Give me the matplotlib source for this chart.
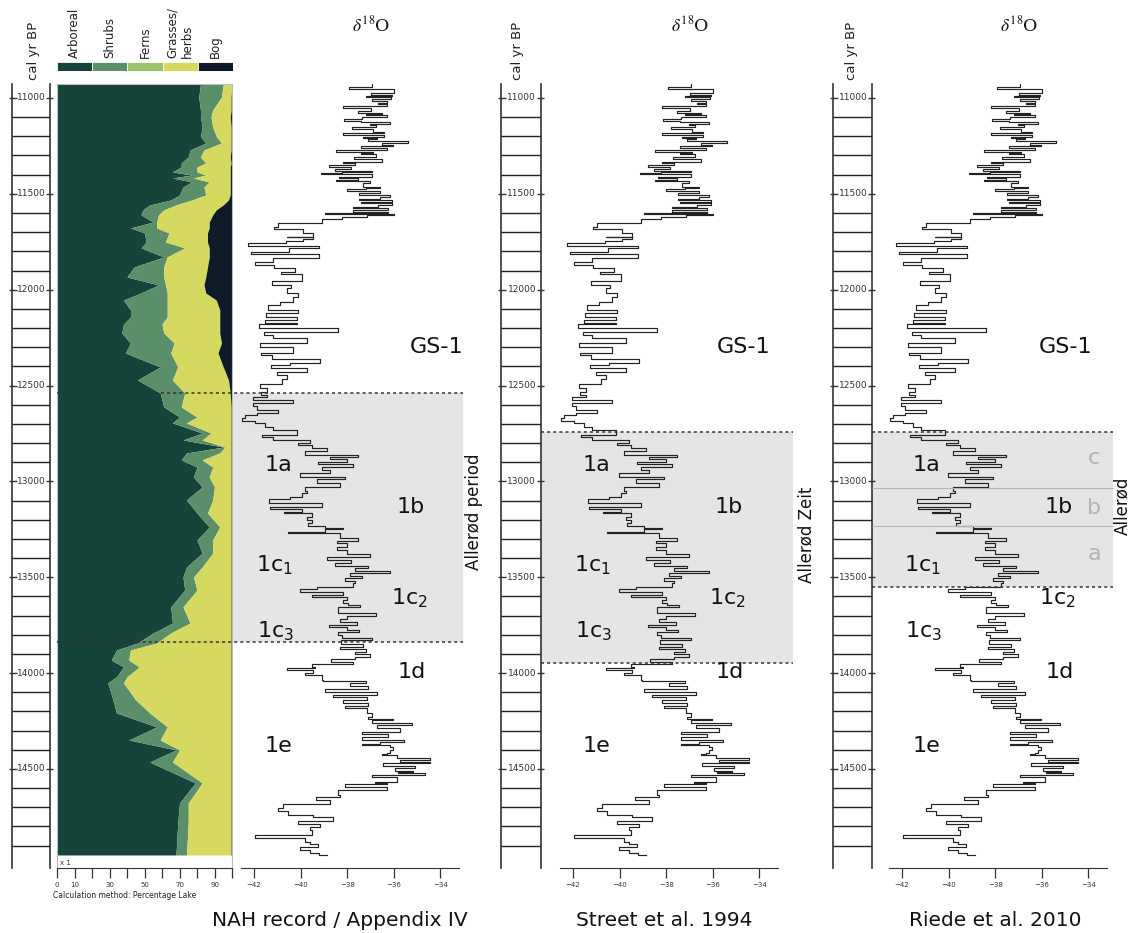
import matplotlib
matplotlib.use("Agg")
import matplotlib.pyplot as plt
import numpy as np

# figure size in pixels
W, H = 1129, 933
AGE_TOP, AGE_BOT = 10927, 15017

# --- vegetation record (NAH), percentages per group ---
veg_age = [10927, 10995, 11063, 11099, 11151, 11200, 11235, 11271, 11308, 11339,
           11360, 11386, 11402, 11417, 11438, 11464, 11506, 11532, 11558, 11584,
           11610, 11647, 11678, 11704, 11751, 11782, 11829, 11882, 11934, 11975,
           12017, 12054, 12106, 12142, 12180, 12226, 12278, 12330, 12403, 12471,
           12539, 12612, 12664, 12695, 12748, 12784, 12821, 12852, 12888, 12925,
           12977, 13029, 13097, 13165, 13238, 13306, 13374, 13447, 13499, 13567,
           13655, 13739, 13791, 13843, 13880, 13932, 13968, 14020, 14051, 14140,
           14208, 14281, 14349, 14401, 14464, 14573, 14678, 14782, 14949]
arboreal = [82, 81, 82, 82, 83, 82, 85, 76, 75, 71,
            71, 66, 77, 66, 77, 72, 70, 65, 53, 49,
            48, 55, 42, 50, 51, 48, 61, 44, 40, 58,
            48, 38, 42, 42, 38, 37, 42, 39, 59, 46,
            59, 61, 70, 66, 83, 72, 95, 74, 71, 80,
            78, 83, 74, 80, 87, 80, 83, 74, 72, 73,
            65, 66, 55, 46, 34, 31, 38, 34, 29, 32,
            34, 57, 41, 68, 53, 79, 70, 69, 68]
shrubs = [13, 13, 7, 6, 6, 9, 9, 8, 7, 14,
          9, 14, 8, 12, 10, 12, 15, 12, 15, 12,
          10, 2, 15, 14, 11, 25, 2, 17, 21, 4,
          15, 25, 21, 21, 22, 24, 25, 26, 10, 20,
          14, 10, 10, 8, 5, 11, 1, 19, 12, 9,
          9, 7, 15, 6, 6, 9, 6, 9, 6, 7,
          7, 10, 10, 11, 8, 10, 9, 6, 9, 13,
          19, 6, 18, 2, 13, 4, 5, 6, 6]
grasses = [5, 5.5, 10.5, 11, 10.5, 8.5, 5.5, 15.5, 17, 14.5,
           19, 19, 14, 21, 12, 15, 14, 21, 27, 30,
           31, 30, 30, 22, 24, 14, 24, 25, 24, 22,
           22, 28, 30, 30, 33, 32, 27, 27, 26, 32,
           26, 28.5, 19.5, 25.5, 11.5, 16.5, 3.5, 6.5, 16.5, 10.5,
           12.5, 9.5, 10.5, 13.5, 6.5, 10.5, 10.5, 16.5, 21.5, 19.5,
           27.5, 23.5, 34.5, 42.5, 57.5, 58.5, 52.5, 59.5, 61.5, 54.5,
           46.5, 36.5, 40.5, 29.5, 33.5, 16.5, 24.5, 24.5, 25.5]
bog = [0, 0.5, 0.5, 1, 0.5, 0.5, 0.5, 0.5, 1, 0.5,
       1, 1, 1, 1, 1, 1, 1, 2, 5, 9,
       11, 13, 13, 14, 14, 13, 13, 14, 15, 16,
       15, 9, 7, 7, 7, 7, 6, 8, 5, 2,
       1, 0.5, 0.5, 0.5, 0.5, 0.5, 0.5, 0.5, 0.5, 0.5,
       0.5, 0.5, 0.5, 0.5, 0.5, 0.5, 0.5, 0.5, 0.5, 0.5,
       0.5, 0.5, 0.5, 0.5, 0.5, 0.5, 0.5, 0.5, 0.5, 0.5,
       0.5, 0.5, 0.5, 0.5, 0.5, 0.5, 0.5, 0.5, 0.5]

veg_names = ["Arboreal", "Shrubs", "Ferns", "Grasses/\nherbs", "Bog"]
veg_colors = ["#16433a", "#5b8f69", "#9bc46b", "#d6d960", "#0e1a27"]

# --- NGRIP d18O record (same in all three panels) ---
d18o_age = [10929, 10941, 10955, 10972, 10983, 10989, 10996, 11003, 11014, 11028,
            11031, 11042, 11054, 11066, 11076, 11083, 11089, 11101, 11111, 11118,
            11123, 11137, 11143, 11153, 11163, 11176, 11184, 11193, 11202, 11209,
            11216, 11224, 11236, 11243, 11249, 11261, 11271, 11280, 11287, 11292,
            11306, 11320, 11332, 11341, 11350, 11362, 11370, 11379, 11388, 11393,
            11398, 11410, 11419, 11428, 11435, 11445, 11462, 11471, 11476, 11483,
            11497, 11504, 11515, 11525, 11532, 11542, 11549, 11560, 11567, 11576,
            11584, 11593, 11600, 11605, 11612, 11619, 11633, 11654, 11671, 11685,
            11706, 11723, 11727, 11737, 11748, 11755, 11770, 11784, 11802, 11814,
            11836, 11854, 11871, 11889, 11906, 11920, 11955, 11975, 11993, 12019,
            12036, 12062, 12080, 12106, 12123, 12141, 12158, 12172, 12181, 12202,
            12219, 12236, 12254, 12280,
            12300, 12328, 12340, 12363, 12380, 12392, 12410, 12432, 12445, 12467,
            12492, 12514, 12532, 12549, 12558, 12575, 12592, 12606, 12627, 12641,
            12653, 12671, 12685, 12697, 12718, 12732, 12758, 12770, 12784, 12798,
            12810, 12827, 12839, 12862, 12871, 12885, 12898, 12909, 12923, 12940,
            12958, 12978, 12989, 13010, 13027, 13048, 13062, 13079, 13093, 13114,
            13132, 13144, 13158, 13166, 13184, 13201, 13215, 13232, 13245, 13248,
            13262, 13271, 13293, 13311, 13323, 13340, 13358, 13380, 13392, 13410,
            13424, 13441, 13453, 13467, 13479, 13493, 13505, 13518, 13531, 13549,
            13563, 13575, 13592, 13601, 13618,
            13633, 13645, 13657, 13689, 13702, 13720, 13732, 13749, 13758, 13776,
            13788, 13802, 13816, 13828, 13849, 13862, 13876, 13889, 13902, 13918,
            13929, 13941, 13953, 13967, 13975, 13984, 13998, 14010, 14036, 14043,
            14050, 14068, 14082, 14097, 14115, 14127, 14141, 14155, 14172, 14184,
            14207, 14231, 14238, 14245, 14259, 14271, 14289, 14306, 14318, 14332,
            14349, 14360, 14370, 14377, 14384, 14402, 14415, 14422, 14428, 14445,
            14454, 14462, 14471, 14483, 14497, 14509, 14515, 14520, 14532, 14541,
            14567, 14575, 14581, 14596, 14610, 14636, 14645, 14649, 14662, 14683,
            14706, 14720, 14741, 14749, 14770, 14788, 14802, 14819, 14845, 14862,
            14880, 14892, 14909, 14923, 14937, 14949]
d18o_val = [-36.95, -37.91, -35.99, -36.99, -36.09, -37.19, -36.13, -36.95, -36.31, -36.66,
            -36.31, -38.19, -36.99, -37.52, -36.52, -37.19, -36.31, -37.38, -38.14, -37.42,
            -36.16, -37.02, -36.76, -37.78, -36.88, -36.42, -38.19, -36.42, -37.31, -36.73,
            -37.12, -35.38, -36.52, -36.05, -37.42, -36.31, -38.48, -36.91, -37.42, -36.76,
            -37.69, -36.52, -38.19, -37.66, -38.77, -37.84, -38.52, -36.95, -38.24, -39.12,
            -36.95, -38.37, -37.52, -38.49, -37.02, -37.31, -36.59, -37.19, -38.02, -36.59,
            -37.48, -36.16, -36.59, -37.49, -36.09, -37.42, -36.09, -36.66, -37.74, -36.23,
            -37.74, -36.23, -38.95, -35.99, -37.16, -38.24, -39.10, -40.95, -41.13, -39.88,
            -39.45, -40.60, -39.45, -39.91, -40.63, -42.24, -39.20, -40.48, -42.13, -39.20,
            -41.20, -41.94, -41.13, -40.24, -40.85, -39.92, -41.24, -40.43, -40.60, -40.10,
            -40.31, -40.88, -41.38, -40.10, -41.50, -40.17, -41.53, -40.17, -41.77, -38.38,
            -41.57, -41.17, -39.74, -41.74,
            -40.31, -41.71, -41.24, -39.17, -40.45, -41.28, -39.74, -41.03, -40.60, -40.81,
            -41.74, -41.46, -41.71, -41.46, -42.03, -40.34, -42.06, -41.88, -40.95, -41.88,
            -42.39, -42.53, -41.96, -41.53, -41.17, -40.17, -41.67, -41.17, -39.60, -40.10,
            -39.52, -38.88, -39.81, -37.52, -38.74, -38.02, -39.24, -37.74, -39.10, -38.74,
            -40.02, -38.09, -39.31, -38.31, -39.81, -39.74, -39.95, -40.45, -41.34, -39.10,
            -41.31, -39.95, -40.70, -39.52, -39.74, -39.52, -39.67, -38.95, -38.17, -38.95,
            -40.55, -38.31, -37.52, -38.45, -38.02, -38.45, -38.02, -37.02, -38.88, -37.85,
            -38.52, -37.09, -37.66, -36.16, -37.88, -37.38, -38.09, -37.66, -37.74, -39.31,
            -40.02, -38.17, -39.52, -38.02, -38.17,
            -37.95, -37.45, -38.38, -36.76, -38.02, -38.31, -37.59, -38.77, -38.02, -37.48,
            -38.38, -38.24, -36.95, -38.27, -37.31, -38.31, -37.19, -37.66, -37.02, -37.66,
            -38.71, -37.74, -39.52, -39.38, -40.60, -39.45, -39.81, -39.10, -39.02, -37.19,
            -37.88, -37.09, -38.95, -36.73, -38.59, -37.14, -38.17, -37.09, -38.09, -37.16,
            -36.95, -37.09, -36.02, -36.95, -35.23, -36.73, -35.73, -37.38, -36.23, -37.38,
            -35.56, -36.59, -37.38, -36.16, -36.02, -36.16, -36.31, -36.52, -35.88, -34.45,
            -35.73, -34.45, -36.45, -35.09, -35.95, -35.16, -35.80, -34.66, -36.95, -35.88,
            -36.81, -36.31, -38.09, -36.31, -38.38, -38.31, -38.52, -39.34, -38.74, -40.77,
            -40.95, -40.53, -39.45, -38.62, -40.10, -39.17, -39.60, -39.52, -41.96, -39.81,
            -39.60, -39.24, -40.02, -39.60, -39.20, -38.85]

# zone boundaries (cal yr BP) for each source
nah_allerod = [12540, 13840]
street_allerod = [12742, 13950]
riede_allerod = [12742, 13551]
riede_sub = [13034, 13233]


def px_axes(x0, x1, y0, y1):
    # axes placed by pixel edges (y measured from top)
    return fig.add_axes([x0 / W, 1 - y1 / H, (x1 - x0) / W, (y1 - y0) / H])


def ftext(x, y, s, **kw):
    kw.setdefault("ha", "center")
    kw.setdefault("va", "center")
    fig.text(x / W, 1 - y / H, s, **kw)


def age_column(x0, x1):
    ax = px_axes(x0, x1, 84, 868)
    ax.set_xlim(0, 1)
    ax.set_ylim(AGE_BOT, AGE_TOP)
    ax.axis("off")
    ax.axvline(0, color="#333333", lw=1.2, clip_on=False)
    ax.axvline(1, color="#333333", lw=1.2, clip_on=False)
    for a in range(11000, 15000, 100):
        if a % 500:
            ax.hlines(a, 0, 1, color="#222222", lw=1)
        else:
            ax.hlines(a, -0.08, 0.12, color="#333333", lw=1, clip_on=False)
            ax.hlines(a, 0.9, 1.08, color="#333333", lw=1, clip_on=False)
            ax.text(0.52, a, str(a), ha="center", va="center", fontsize=6.5, color="#333333")
    return ax


def d18o_axes(x0):
    ax = px_axes(x0, x0 + 218, 84, 868)
    ax.set_facecolor("none")
    ax.plot(d18o_val, d18o_age, drawstyle="steps-pre", color="#222222", lw=0.85)
    ax.set_xlim(-42.56, -33.2)
    ax.set_ylim(AGE_BOT, AGE_TOP)
    for s in ["left", "right", "top"]:
        ax.spines[s].set_visible(False)
    ax.spines["bottom"].set_color("#333333")
    ax.set_yticks([])
    ax.set_xticks([-42, -40, -38, -36, -34])
    ax.tick_params(axis="x", length=7, width=0.9, labelsize=5, pad=3, colors="#333333")
    return ax


fig = plt.figure(figsize=(W / 100, H / 100), dpi=100)

# background layer for the grey zone shading
bg = px_axes(0, W, 84, 868)
bg.set_xlim(0, W)
bg.set_ylim(AGE_BOT, AGE_TOP)
bg.axis("off")
bg.set_zorder(0)
shade = "#e5e5e5"
bg.fill_betweenx(nah_allerod, 232, 463, color=shade, lw=0)
bg.fill_betweenx(street_allerod, 541, 793, color=shade, lw=0)
bg.fill_betweenx(riede_allerod, 872, 1113, color=shade, lw=0)

# vegetation panel
ax_v = px_axes(57, 232, 84, 868)
ax_v.set_zorder(1)
b1 = np.array(arboreal, dtype=float)
b2 = b1 + np.array(shrubs)
b3 = b2 + np.array(grasses)
b4 = b3 + np.array(bog)
ax_v.fill_betweenx(veg_age, 0, b1, color=veg_colors[0], lw=0)
ax_v.fill_betweenx(veg_age, b1, b2, color=veg_colors[1], lw=0)
ax_v.fill_betweenx(veg_age, b2, b3, color=veg_colors[3], lw=0)
ax_v.fill_betweenx(veg_age, b3, b4, color=veg_colors[4], lw=0)
ax_v.set_xlim(0, 100)
ax_v.set_ylim(AGE_BOT, AGE_TOP)
ax_v.set_yticks([])
ax_v.set_xticks(range(0, 101, 10))
ax_v.set_xticklabels(["0", "10", "", "30", "", "50", "", "70", "", "90", ""])
ax_v.tick_params(axis="x", length=7, width=0.9, labelsize=5, pad=3, colors="#333333")
for s in ["left", "right", "top"]:
    ax_v.spines[s].set_color("#bbbbbb")
    ax_v.spines[s].set_linewidth(0.8)
ax_v.spines["bottom"].set_color("#333333")
ax_v.text(2, 14990, "x 1", fontsize=5, va="center", color="#333333")

# vegetation legend bar
ax_l = px_axes(57, 233, 62, 71)
ax_l.bar(range(5), 1, width=1, color=veg_colors, edgecolor="white", lw=0.6)
ax_l.set_xlim(-0.5, 4.5)
ax_l.set_ylim(0, 1)
ax_l.axis("off")
for i, name in enumerate(veg_names):
    ax_l.text(i, 1.4, name, rotation=90, ha="center", va="bottom", fontsize=8.5,
              multialignment="left", color="#222222")

# age columns
for x0, x1 in [(12, 50), (501, 541), (833, 872)]:
    age_column(x0, x1)

# d18O panels
for x0 in [241, 560, 889]:
    d18o_axes(x0).set_zorder(2)

# dotted zone boundaries on top
ov = px_axes(0, W, 84, 868)
ov.set_xlim(0, W)
ov.set_ylim(AGE_BOT, AGE_TOP)
ov.axis("off")
ov.set_zorder(3)
dots = dict(colors="#333333", lw=1.1, linestyles=(0, (2, 2)))
ov.hlines(nah_allerod, 57, 463, **dots)
ov.hlines(street_allerod, 541, 793, **dots)
ov.hlines(riede_allerod, 872, 1113, **dots)
ov.hlines(riede_sub, 872, 1113, colors="#b5b5b5", lw=0.8)

# headers
for x in [33, 518, 852]:
    ftext(x, 51, "cal yr BP", rotation=90, fontsize=9.5, color="#222222")
for x in [371, 690, 1019]:
    ftext(x, 25, r"$\delta^{18}$O", fontsize=12.5, family="DejaVu Serif",
          math_fontfamily="stix", color="#111111")

# zone labels
zl = dict(fontsize=16, color="#111111")
for x in [437, 744, 1066]:
    ftext(x, 347, "GS-1", **zl)
for xa, xb in [(278, 411), (596, 729), (926, 1059)]:
    ftext(xa, 465, "1a", **zl)
    ftext(xb, 507, "1b", **zl)
    ftext(xa - 4, 565, r"1c$_1$", **zl)
    ftext(xb - 2, 598, r"1c$_2$", **zl)
    ftext(xa - 2, 631, r"1c$_3$", **zl)
    ftext(xb + 1, 672, "1d", **zl)
    ftext(xa, 746, "1e", **zl)

for s, y in [("c", 458), ("b", 508), ("a", 554)]:
    ftext(1094, y, s, fontsize=16, color="#b3b3b3")

ftext(474, 512, "Allerød period", rotation=90, fontsize=12, color="#111111")
ftext(806, 535, "Allerød Zeit", rotation=90, fontsize=12, color="#111111")
ftext(1122, 506, "Allerød", rotation=90, fontsize=12, color="#111111")

ftext(53, 896, "Calculation method: Percentage Lake", ha="left", fontsize=5.5, color="#222222")

# source titles
ftext(340, 920, "NAH record / Appendix IV", fontsize=14.5, color="#111111")
ftext(664, 920, "Street et al. 1994", fontsize=14.5, color="#111111")
ftext(995, 920, "Riede et al. 2010", fontsize=14.5, color="#111111")

fig.savefig("out.png", dpi=100)
